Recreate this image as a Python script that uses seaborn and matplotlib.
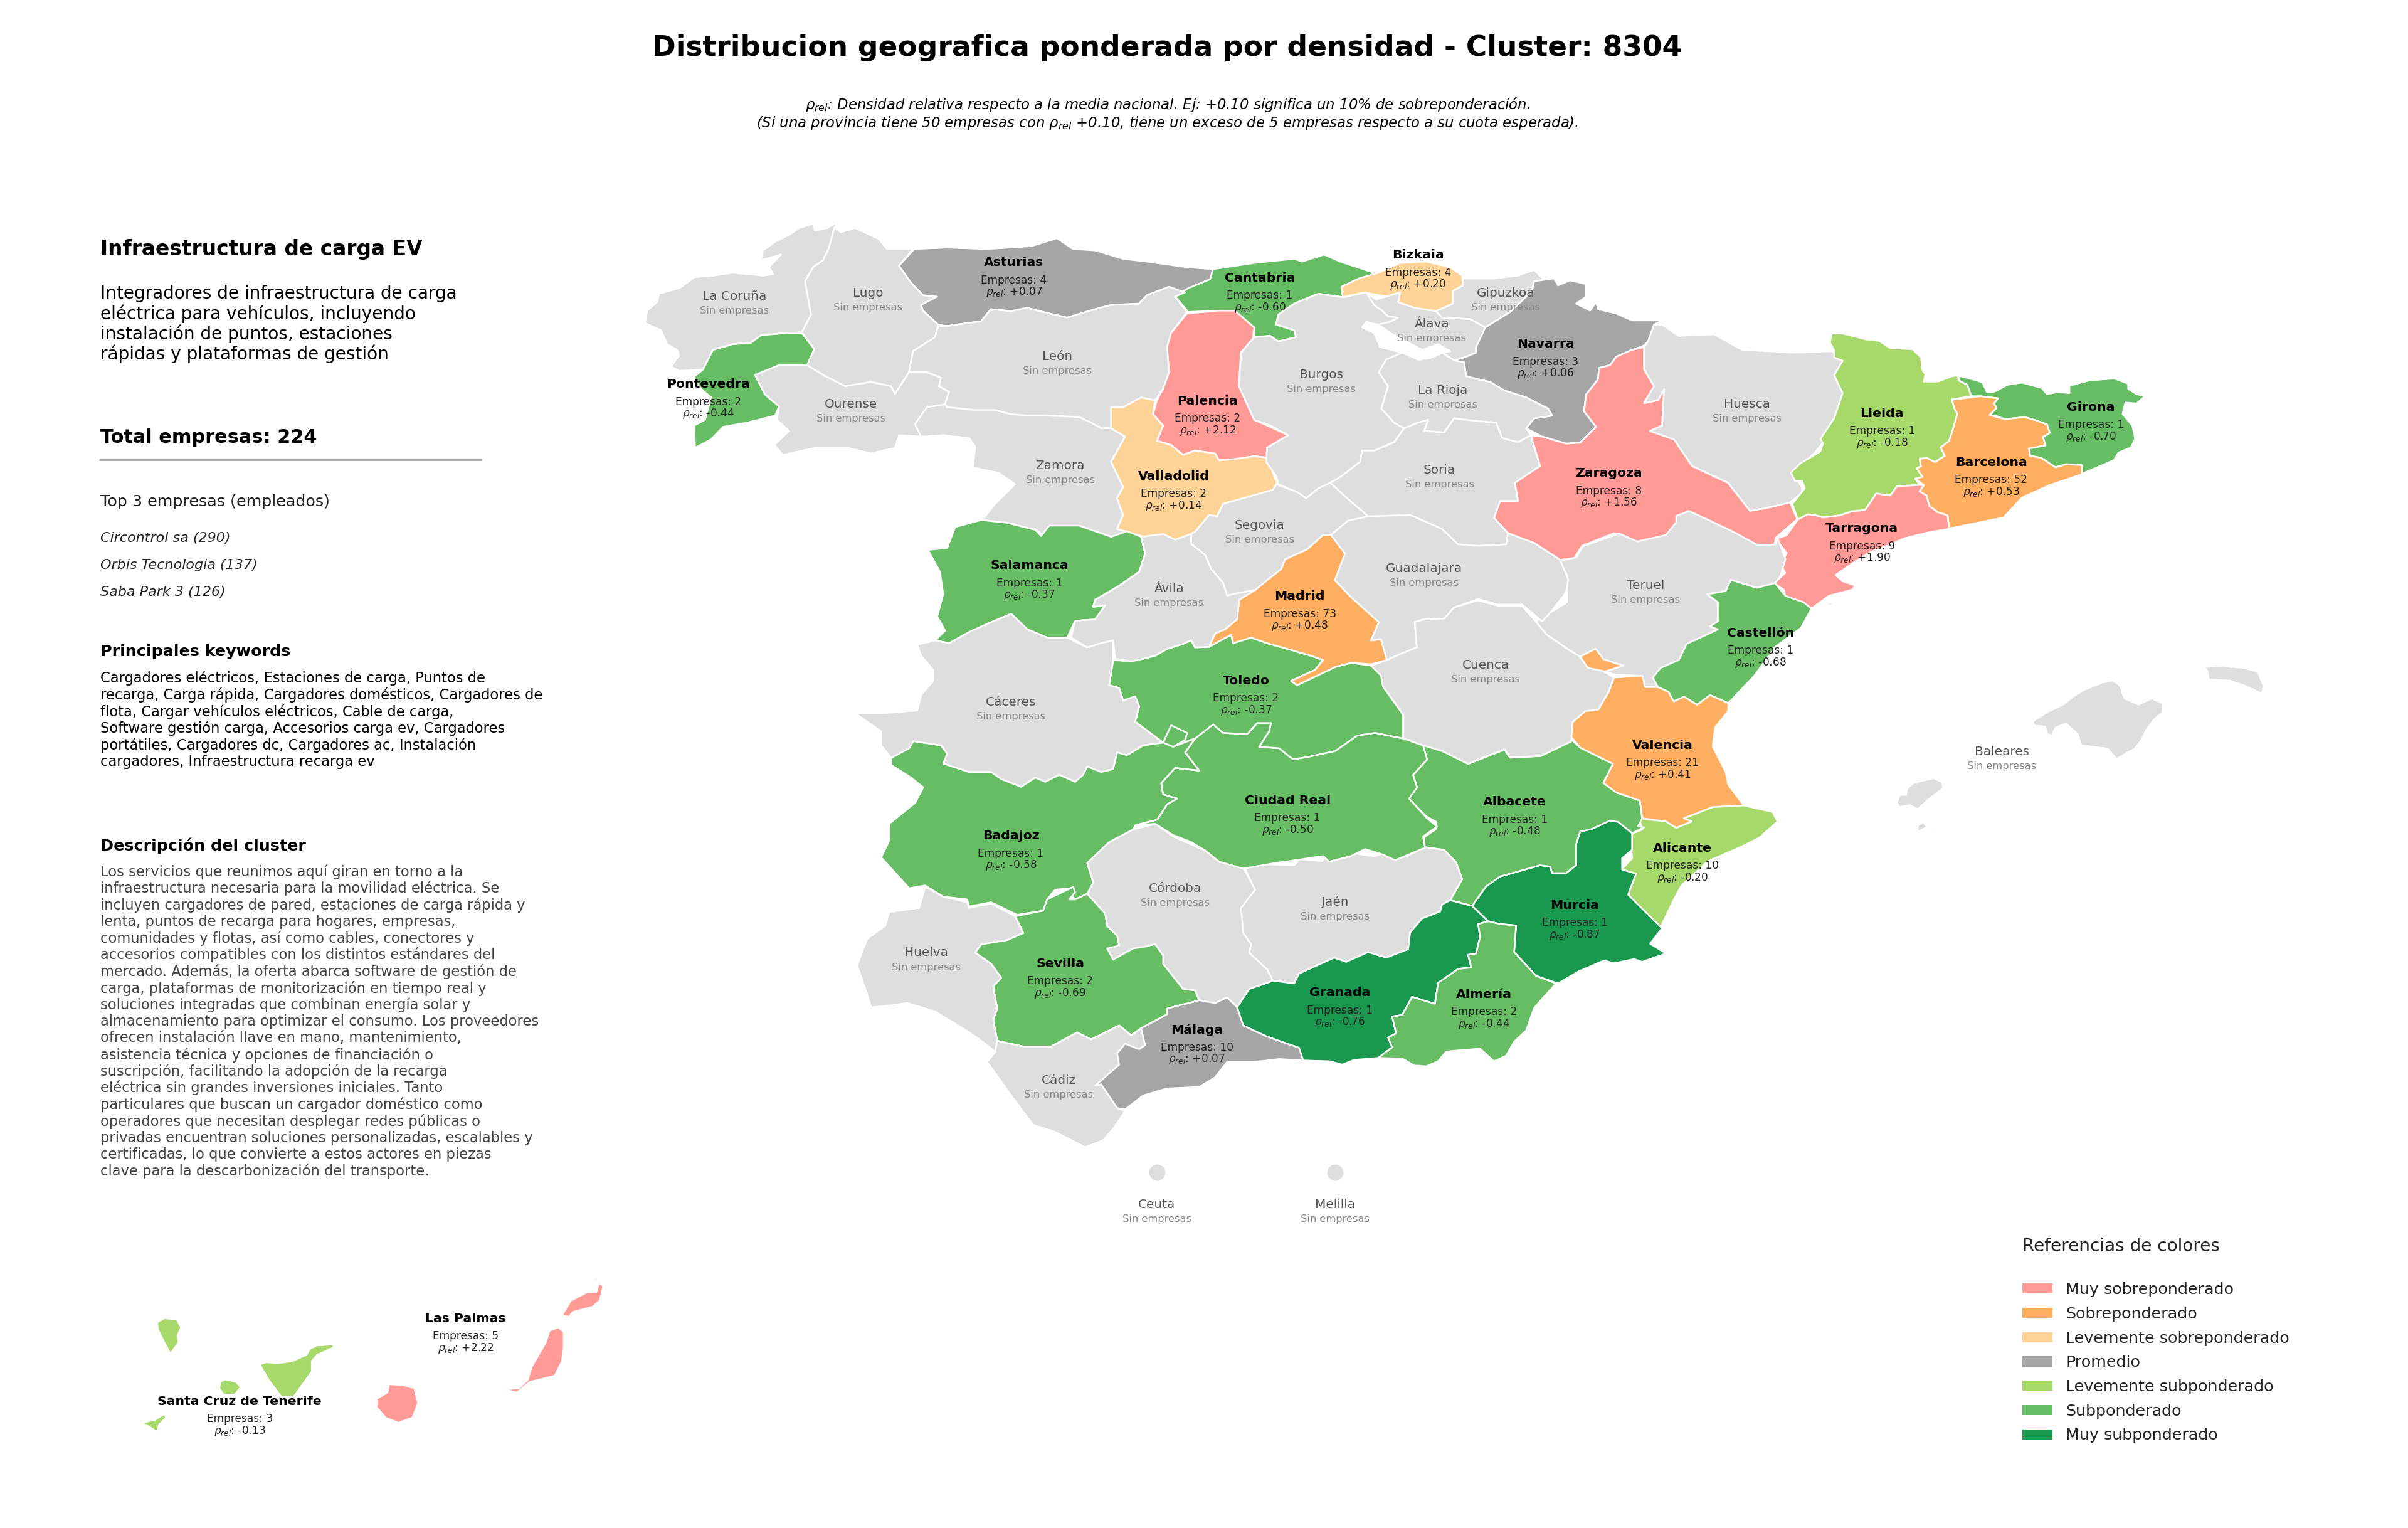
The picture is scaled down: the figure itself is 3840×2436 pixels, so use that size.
import matplotlib
matplotlib.use("Agg")
import matplotlib.pyplot as plt
from matplotlib.patches import Patch
import numpy as np
import pandas as pd
import seaborn as sns

# provinces with companies
provincias = ["Asturias", "Cantabria", "Bizkaia", "Navarra", "Pontevedra", "Palencia", "Girona",
              "Lleida", "Barcelona", "Zaragoza", "Valladolid", "Tarragona", "Salamanca", "Madrid",
              "Castellón", "Toledo", "Valencia", "Ciudad Real", "Albacete", "Badajoz", "Alicante",
              "Murcia", "Sevilla", "Granada", "Almería", "Málaga", "Las Palmas", "Santa Cruz de Tenerife"]
empresas = [4, 1, 4, 3, 2, 2, 1, 1, 52, 8, 2, 9, 1, 73, 1, 2, 21, 1, 1, 1, 10, 1, 2, 1, 2, 10, 5, 3]
rho_rel = [0.07, -0.60, 0.20, 0.06, -0.44, 2.12, -0.70, -0.18, 0.53, 1.56, 0.14, 1.90, -0.37, 0.48,
           -0.68, -0.37, 0.41, -0.50, -0.48, -0.58, -0.20, -0.87, -0.69, -0.76, -0.44, 0.07, 2.22, -0.13]

sin_empresas = ["La Coruña", "Lugo", "León", "Ourense", "Burgos", "Álava", "Gipuzkoa", "La Rioja",
                "Huesca", "Zamora", "Soria", "Segovia", "Guadalajara", "Ávila", "Teruel", "Cuenca",
                "Cáceres", "Córdoba", "Jaén", "Huelva", "Cádiz", "Baleares"]
plazas = ["Ceuta", "Melilla"]

niveles = ["Muy sobreponderado", "Sobreponderado", "Levemente sobreponderado", "Promedio",
           "Levemente subponderado", "Subponderado", "Muy subponderado"]
colores_nivel = ["#ff9a96", "#fdae61", "#fed397", "#a6a6a6", "#a6d96a", "#66bd63", "#1a9850"]
cortes = [-np.inf, -0.75, -0.25, -0.10, 0.10, 0.25, 1.0, np.inf]

top_empresas = ["Circontrol sa (290)", "Orbis Tecnologia (137)", "Saba Park 3 (126)"]
keywords = ["Cargadores eléctricos, Estaciones de carga, Puntos de",
            "recarga, Carga rápida, Cargadores domésticos, Cargadores de",
            "flota, Cargar vehículos eléctricos, Cable de carga,",
            "Software gestión carga, Accesorios carga ev, Cargadores",
            "portátiles, Cargadores dc, Cargadores ac, Instalación",
            "cargadores, Infraestructura recarga ev"]
descripcion = ["Los servicios que reunimos aquí giran en torno a la",
               "infraestructura necesaria para la movilidad eléctrica. Se",
               "incluyen cargadores de pared, estaciones de carga rápida y",
               "lenta, puntos de recarga para hogares, empresas,",
               "comunidades y flotas, así como cables, conectores y",
               "accesorios compatibles con los distintos estándares del",
               "mercado. Además, la oferta abarca software de gestión de",
               "carga, plataformas de monitorización en tiempo real y",
               "soluciones integradas que combinan energía solar y",
               "almacenamiento para optimizar el consumo. Los proveedores",
               "ofrecen instalación llave en mano, mantenimiento,",
               "asistencia técnica y opciones de financiación o",
               "suscripción, facilitando la adopción de la recarga",
               "eléctrica sin grandes inversiones iniciales. Tanto",
               "particulares que buscan un cargador doméstico como",
               "operadores que necesitan desplegar redes públicas o",
               "privadas encuentran soluciones personalizadas, escalables y",
               "certificadas, lo que convierte a estos actores en piezas",
               "clave para la descarbonización del transporte."]
integradores = ["Integradores de infraestructura de carga", "eléctrica para vehículos, incluyendo",
                "instalación de puntos, estaciones", "rápidas y plataformas de gestión"]

# label anchors (px / 2.45)
label_xy = {"Asturias": (660, 171), "Cantabria": (820, 181), "Bizkaia": (923, 166), "Navarra": (1006, 224),
            "Pontevedra": (461, 250), "Palencia": (786, 261), "Girona": (1361, 265), "Lleida": (1225, 269),
            "Barcelona": (1296, 301), "Zaragoza": (1047, 308), "Valladolid": (764, 310), "Tarragona": (1212, 344),
            "Salamanca": (670, 368), "Madrid": (846, 388), "Castellón": (1146, 412), "Toledo": (811, 443),
            "Valencia": (1082, 485), "Ciudad Real": (838, 521), "Albacete": (986, 522), "Badajoz": (658, 544),
            "Alicante": (1095, 552), "Murcia": (1025, 589), "Sevilla": (690, 627), "Granada": (872, 646),
            "Almería": (966, 647), "Málaga": (779, 670), "Las Palmas": (303, 858),
            "Santa Cruz de Tenerife": (156, 912),
            "La Coruña": (478, 193), "Lugo": (565, 191), "León": (688, 232), "Ourense": (554, 263),
            "Burgos": (860, 244), "Álava": (932, 211), "Gipuzkoa": (980, 191), "La Rioja": (939, 254),
            "Huesca": (1137, 263), "Zamora": (690, 303), "Soria": (937, 306), "Segovia": (820, 342),
            "Guadalajara": (927, 370), "Ávila": (761, 383), "Teruel": (1071, 381), "Cuenca": (967, 433),
            "Cáceres": (658, 457), "Córdoba": (765, 578), "Jaén": (869, 587), "Huelva": (603, 620),
            "Cádiz": (689, 703), "Baleares": (1303, 489), "Ceuta": (753, 784), "Melilla": (869, 784)}

# outlines were traced on enlarged crops: (x0, y0, w, h) of the crop, then points in its own scale
NO = (1000, 330, 1000, 700)
NE = (2000, 330, 1000, 700)
CE = (1300, 800, 1000, 700)
ES = (2300, 700, 1300, 800)
SO = (1300, 1300, 1000, 700)
SE = (2000, 1250, 1000, 700)
CA = (2800, 500, 700, 500)
BA = (3000, 1030, 650, 320)
IC = (150, 2000, 900, 400)

outlines = {
    "La Coruña": [(NO, [(525,55),(515,90),(520,115),(505,145),(490,190),(465,215),(445,265),(460,385),(437,447),(400,450),(335,458),(310,485),(265,490),(215,510),(190,580),(130,585),(110,570),(130,530),(125,510),(100,490),(85,440),(45,415),(50,370),(75,340),(80,310),(130,290),(170,250),(215,245),(265,235),(340,245),(365,240),(355,215),(385,170),(335,190),(340,155),(370,125),(410,95),(430,75),(465,60),(470,85),(500,75)])],
    "Lugo": [(NO, [(518,75),(505,145),(490,190),(465,215),(445,265),(460,385),(437,447),(468,507),(450,565),(490,600),(545,640),(610,625),(660,640),(670,668),(705,590),(715,515),(770,465),(778,420),(740,370),(735,350),(775,320),(740,315),(710,270),(680,210),(715,150),(650,150),(630,115),(570,75),(535,90)])],
    "Asturias": [(NO, [(718,150),(800,145),(900,150),(1010,140),(1075,112),(1115,150),(1170,155),(1240,185),(1300,195),(1400,215),(1465,222),(1458,258),(1405,290),(1395,305),(1355,285),(1300,315),(1280,345),(1210,350),(1170,365),(1100,395),(1040,375),(1000,360),(960,372),(910,365),(885,408),(800,425),(778,420),(740,370),(735,350),(775,320),(740,315),(710,270),(680,210)])],
    "Cantabria": [(NE, [(-103,222),(0,200),(100,185),(120,195),(175,170),(215,195),(300,235),(302,255),(250,265),(218,290),(222,322),(160,310),(100,345),(60,385),(55,420),(100,440),(105,465),(60,480),(40,460),(0,465),(0,430),(-50,385),(-80,370),(-120,372),(-165,375),(-197,320),(-165,290),(-110,258)])],
    "Palencia": [(NO, [(1400,380),(1480,370),(1520,370),(1568,430),(1565,470),(1535,520),(1530,640),(1568,760),(1600,780),(1653,815),(1600,860),(1600,895),(1568,890),(1520,900),(1480,905),(1470,880),(1420,870),(1390,885),(1360,850),(1325,835),(1340,780),(1315,740),(1325,690),(1340,650),(1355,590),(1350,500),(1360,450)])],
    "Valladolid": [(NO, [(1210,715),(1240,715),(1285,680),(1320,690),(1315,740),(1340,780),(1325,835),(1360,850),(1390,885),(1420,870),(1470,880),(1480,905),(1520,900),(1568,890),(1600,895),(1625,985),(1615,1010),(1568,1030),(1490,1060),(1475,1105),(1455,1100),(1420,1160),(1370,1195),(1285,1175),(1225,1150),(1240,1100),(1225,1040),(1240,1000),(1210,910),(1245,820),(1210,790)]),
                   (NO, [(1180,795),(1190,790),(1196,822),(1182,822)])],
    "Pontevedra": [(NO, [(335,458),(400,450),(437,450),(468,507),(450,565),(380,565),(320,600),(345,670),(380,712),(370,745),(300,770),(240,785),(210,830),(170,860),(168,780),(195,760),(210,680),(185,650),(165,610),(190,580),(215,510),(265,490),(310,485)])],
    "Ourense": [(NO, [(320,600),(380,565),(450,565),(490,600),(545,640),(610,625),(660,640),(670,668),(705,590),(750,590),(785,610),(780,640),(805,660),(795,705),(750,715),(720,775),(735,820),(680,815),(670,860),(610,880),(550,860),(470,860),(390,885),(368,850),(405,800),(375,760),(380,712),(345,670)])],
    "León": [(NO, [(778,425),(800,425),(885,408),(910,365),(960,372),(1000,360),(1040,375),(1100,395),(1170,365),(1210,350),(1280,345),(1300,315),(1355,285),(1395,305),(1370,320),(1400,375),(1360,450),(1350,500),(1355,590),(1340,650),(1320,690),(1285,680),(1240,715),(1210,715),(1210,790),(1185,790),(1160,770),(1130,750),(1050,745),(1000,745),(960,740),(920,725),(870,725),(800,715),(795,705),(805,660),(780,640),(785,610),(750,590),(705,590),(715,515),(770,465)])],
    "Zamora": [(NO, [(795,705),(800,715),(870,725),(920,725),(960,740),(1000,745),(1050,745),(1130,750),(1160,770),(1185,790),(1210,790),(1245,820),(1210,910),(1240,1000),(1225,1040),(1240,1100),(1225,1150),(1285,1175),(1240,1165),(1220,1180),(1180,1165),(1130,1145),(1040,1170),(1020,1150),(960,1140),(890,1115),(920,1060),(970,990),(930,950),(865,930),(870,855),(855,825),(790,815),(735,820),(720,775),(750,715)])],
    "Salamanca": [(CE, [(415,65),(480,75),(550,100),(565,122),(585,85),(660,85),(740,125),(780,105),(815,125),(825,185),(810,250),(760,300),(700,350),(695,375),(725,370),(700,420),(650,425),(630,485),(580,485),(530,455),(490,400),(440,430),(385,465),(335,505),(300,495),(325,460),(305,410),(320,330),(312,250),(282,172),(330,165),(350,90)])],
    "Burgos": [(NE, [(60,385),(100,345),(160,310),(222,322),(280,305),(305,330),(300,350),(320,370),(335,390),(360,395),(340,410),(310,420),(280,410),(270,430),(300,450),(315,500),(370,520),(330,545),(312,590),(335,640),(318,720),(350,770),(375,790),(350,840),(300,870),(270,870),(265,910),(215,965),(190,985),(160,1005),(130,1040),(110,1020),(60,990),(55,960),(30,910),(32,860),(85,815),(40,780),(0,760),(-38,640),(-33,520),(-3,470),(0,465),(40,460),(60,480),(105,465),(100,440),(55,420)])],
    "Bizkaia": [(NE, [(218,285),(262,255),(310,235),(365,200),(430,195),(490,215),(520,245),(522,280),(497,300),(497,345),(455,372),(400,360),(360,340),(365,305),(330,320),(275,305),(222,322)]),
                (NE, [(330,375),(345,365),(358,385),(340,390)])],
    "Álava": [(NE, [(280,305),(305,330),(330,320),(365,305),(360,340),(400,360),(455,372),(470,395),(540,400),(578,430),(575,460),(555,500),(555,520),(530,535),(500,548),(470,520),(490,515),(460,490),(420,510),(380,480),(340,450),(310,420),(340,410),(360,395),(335,390),(320,370),(300,350)])],
    "Gipuzkoa": [(NE, [(522,255),(600,255),(660,245),(700,225),(725,260),(695,300),(640,375),(578,430),(540,400),(470,395),(455,372),(497,345),(497,300),(522,280)])],
    "Navarra": [(NE, [(700,265),(750,255),(760,280),(790,262),(830,275),(830,320),(805,345),(840,370),(855,340),(860,365),(905,380),(945,405),(1020,405),(1000,420),(985,480),(975,495),(945,510),(905,535),(890,565),(862,575),(860,615),(830,670),(825,730),(855,785),(815,842),(780,845),(720,820),(680,790),(700,755),(745,745),(735,720),(680,680),(625,655),(590,625),(530,605),(525,555),(500,548),(530,535),(555,520),(555,500),(578,430),(640,375),(695,300)])],
    "La Rioja": [(NE, [(330,545),(370,520),(410,545),(440,540),(470,520),(500,548),(525,555),(530,605),(590,625),(625,655),(680,680),(735,720),(745,745),(700,755),(680,790),(692,815),(660,840),(620,825),(605,770),(560,765),(500,755),(475,805),(425,800),(435,760),(410,770),(375,790),(350,770),(318,720),(335,640),(312,590)])],
    "Soria": [(NE, [(375,790),(410,770),(435,760),(425,800),(475,805),(500,755),(560,765),(605,770),(620,825),(660,840),(692,815),(705,880),(715,925),(652,985),(660,1050),(615,1050),(600,1110),(635,1165),(630,1205),(560,1210),(510,1205),(470,1150),(390,1100),(285,1105),(240,1050),(190,985),(215,965),(265,910),(270,870),(300,870),(350,840)])],
    "Zaragoza": [(NE, [(975,500),(975,580),(1000,640),(975,700),(1010,690),(1025,650),(1020,780),(990,800),(1050,830),(1095,925),(1185,985),(1240,1085),(1280,1075),(1340,1055),(1358,1115),(1305,1180),(1300,1210),(1255,1205),(1180,1150),(1120,1110),(1085,1085),(1060,1105),(1060,1155),(1000,1190),(960,1200),(900,1165),(820,1210),(800,1255),(765,1260),(700,1200),(635,1165),(600,1110),(615,1050),(660,1050),(652,985),(715,925),(692,815),(720,820),(780,845),(815,842),(855,785),(825,730),(830,670),(860,615),(862,575),(890,565),(905,535),(945,510)])],
    "Huesca": [(NE, [(1000,420),(1020,420),(1060,460),(1150,455),(1220,510),(1350,520),(1445,515),(1475,550),(1455,620),(1475,660),(1460,720),(1435,820),(1400,880),(1345,950),(1370,1000),(1370,1020),(1340,1055),(1280,1075),(1240,1085),(1185,985),(1095,925),(1050,830),(990,800),(1020,780),(1025,650),(1010,690),(975,700),(1000,640),(975,580),(975,500),(985,480)])],
    "Lleida": [(CA, [(270,95),(310,95),(400,125),(440,130),(480,165),(560,170),(590,210),(595,270),(605,290),(600,325),(650,325),(700,300),(720,295),(725,320),(755,340),(770,395),(700,410),(710,455),(720,480),(700,570),(690,610),(660,640),(675,680),(640,710),(610,690),(585,695),(590,730),(575,740),(595,780),(570,790),(585,820),(505,825),(480,870),(430,860),(390,940),(345,945),(300,965),(240,975),(215,965),(185,960),(150,985),(130,910),(175,835),(165,800),(140,800),(125,760),(160,715),(230,660),(240,620),(230,600),(280,500),(310,380),(280,295),(310,225),(280,210),(280,175),(265,140)])],
    "Girona": [(CA, [(725,297),(790,320),(810,330),(825,375),(850,375),(900,340),(950,330),(1020,355),(1040,385),(1080,375),(1120,380),(1120,345),(1190,320),(1280,310),(1330,335),(1330,360),(1360,385),(1390,395),(1360,430),(1320,425),(1310,480),(1345,535),(1355,600),(1340,640),(1295,665),(1280,700),(1220,735),(1165,765),(1165,725),(1110,720),(1070,735),(1020,690),(980,680),(975,645),(1035,630),(1025,590),(1050,570),(1040,530),(1000,510),(960,495),(890,505),(860,490),(835,485),(860,450),(850,430),(865,405),(800,395),(770,395),(755,340),(725,320)])],
    "Barcelona": [(CA, [(700,412),(800,395),(865,405),(850,430),(860,450),(835,485),(890,505),(960,495),(1000,510),(1040,530),(1050,570),(1025,590),(1035,630),(975,645),(980,680),(1020,690),(1070,735),(1110,720),(1165,725),(1165,768),(1050,820),(950,880),(885,975),(690,1028),(685,965),(650,950),(620,920),(610,870),(585,850),(600,820),(570,790),(595,780),(575,740),(590,730),(585,695),(610,690),(640,710),(675,680),(660,640),(690,610),(700,570),(720,480),(710,455)])],
    "Tarragona": [(CA, [(150,985),(185,960),(215,965),(240,975),(300,965),(345,945),(390,940),(430,860),(480,870),(505,825),(585,820),(600,820),(585,850),(610,870),(620,920),(650,950),(685,965),(690,1030),(620,1045),(530,1075),(470,1110),(410,1140),(350,1190),(285,1250),(310,1280),(355,1300),(345,1320),(260,1350),(200,1410),(105,1350),(100,1320),(65,1290),(105,1240),(90,1200),(110,1145),(75,1085),(75,1075),(110,1060)]),
                  (CA, [(248,1388),(280,1381),(272,1393),(252,1395)])],
    "Teruel": [(ES, [(225,380),(258,370),(270,335),(340,295),(375,320),(430,300),(450,260),(450,240),(475,225),(515,255),(560,290),(605,330),(640,330),(645,310),(660,375),(650,430),(640,450),(605,465),(555,440),(545,475),(510,485),(530,510),(530,570),(515,585),(530,595),(470,640),(470,670),(455,690),(420,715),(405,745),(415,775),(390,775),(385,740),(330,735),(310,725),(348,708),(310,688),(295,655),(265,680),(240,655),(200,610),(180,570),(240,510),(240,425)])],
    "Castellón": [(ES, [(545,475),(555,440),(605,465),(640,450),(660,490),(695,510),(710,530),(690,590),(640,650),(600,740),(550,825),(515,800),(490,830),(465,805),(445,820),(435,790),(415,775),(405,745),(420,715),(455,690),(470,640),(530,595),(515,585),(530,570),(530,510),(510,485)])],
    "Valencia": [(ES, [(330,745),(385,740),(390,775),(415,775),(435,790),(445,820),(465,805),(490,830),(515,800),(550,825),(550,850),(525,900),(520,960),(545,1040),(550,1080),(580,1145),(520,1150),(465,1185),(480,1195),(450,1215),(430,1195),(385,1185),(380,1130),(335,1105),(310,1075),(328,1015),(265,965),(248,930),(250,885),(275,850),(300,845),(320,790)]),
                 (ES, [(265,680),(295,655),(310,688),(348,708),(310,728),(280,715)])],
    "Alicante": [(ES, [(465,1185),(520,1150),(580,1145),(635,1165),(645,1195),(610,1245),(580,1270),(510,1320),(460,1395),(445,1440),(420,1525),(360,1440),(360,1395),(345,1345),(365,1310),(362,1235),(385,1220),(378,1185),(430,1195),(450,1215),(480,1195)])],
    "Murcia": [(SE, [(545,435),(580,365),(615,330),(715,290),(740,295),(745,318),(780,318),(805,290),(805,215),(815,170),(845,160),(890,130),(910,135),(945,175),(945,235),(920,265),(920,305),(955,320),(935,395),(1020,515),(990,570),(1030,605),(970,635),(950,625),(900,640),(875,630),(810,670),(760,712),(705,685),(650,600),(655,505),(615,500),(585,490)])],
    "Albacete": [(SE, [(422,-139),(470,-119),(535,-72),(626,-123),(640,-94),(717,-100),(793,-160),(815,-130),(897,-72),(873,-4),(906,31),(964,59),(970,123),(960,150),(975,155),(945,175),(910,135),(890,130),(845,160),(815,170),(805,215),(805,290),(780,318),(745,318),(740,295),(715,290),(615,330),(580,365),(545,435),(490,415),(520,340),(505,280),(475,235),(425,225),(425,190),(455,160),(455,135),(430,115),(385,50),(407,11),(397,-33),(432,-87)])],
    "Jaén": [(SE, [(-28,287),(0,285),(100,290),(115,268),(170,275),(180,258),(225,265),(240,245),(300,258),(330,245),(350,270),(385,255),(425,225),(475,235),(505,280),(520,340),(490,415),(470,430),(465,455),(420,480),(390,530),(385,590),(330,620),(285,600),(230,635),(200,620),(112,677),(100,712),(47,702),(32,662),(-13,602),(-8,572),(-28,532),(-33,442),(2,377)])],
    "Granada": [(SE, [(490,415),(545,435),(585,490),(560,500),(565,545),(555,605),(535,610),(543,655),(510,660),(460,710),(452,785),(395,760),(370,825),(345,830),(355,890),(335,905),(345,940),(310,978),(250,985),(220,1002),(190,990),(122,987),(112,942),(32,902),(-28,862),(-43,797),(-13,732),(47,702),(100,712),(112,677),(200,620),(230,635),(285,600),(330,620),(385,590),(390,530),(420,480),(465,455),(470,430)])],
    "Almería": [(SE, [(585,490),(615,500),(655,505),(650,600),(705,685),(755,712),(715,775),(700,800),(680,880),(650,920),(630,970),(600,990),(565,945),(520,950),(480,955),(460,990),(430,1008),(400,1005),(370,980),(310,978),(345,940),(335,905),(355,890),(345,830),(370,825),(395,760),(452,785),(460,710),(510,660),(543,655),(535,610),(555,605),(565,545),(560,500)])],
    "Córdoba": [(SO, [(850,30),(895,75),(975,125),(1010,165),(1070,185),(1100,265),(1065,330),(1070,420),(1090,460),(1085,490),(1130,550),(1145,590),(1085,620),(1055,685),(1030,650),(1000,670),(960,660),(950,625),(920,620),(870,530),(870,500),(850,460),(820,470),(795,475),(745,515),(730,475),(760,465),(755,430),(730,395),(725,350),(680,280),(695,240),(680,165),(735,95),(795,50)])],
    "Ciudad Real": [(CE, [(925,895),(950,845),(995,795),(1020,825),(1080,830),(1105,790),(1140,790),(1135,820),(1110,875),(1160,880),(1195,920),(1235,910),(1300,890),(1355,835),(1400,825),(1470,845),(1520,870),(1530,920),(1495,975),(1505,1020),(1485,1060),(1530,1130),(1555,1160),(1520,1195),(1525,1235),(1450,1280),(1420,1260),(1375,1240),(1340,1265),(1285,1285),(1270,1265),(1200,1280),(1150,1290),(1070,1310),(1010,1285),(975,1245),(940,1215),(895,1190),(850,1150),(800,1155),(855,1135),(880,1080),(905,1060),(870,1045),(865,1005),(900,950),(960,960)])],
    "Toledo": [(CE, [(745,565),(790,570),(850,550),(880,525),(915,510),(940,495),(950,520),(985,518),(1020,490),(1040,475),(1045,505),(1090,485),(1130,505),(1180,525),(1240,550),(1270,565),(1250,600),(1190,640),(1205,655),(1300,590),(1340,575),(1390,585),(1415,620),(1420,660),(1470,760),(1470,845),(1400,825),(1355,835),(1300,890),(1235,910),(1195,920),(1160,880),(1110,875),(1135,820),(1140,790),(1105,790),(1080,830),(1020,825),(995,795),(950,845),(895,875),(870,860),(800,785),(810,730),(800,695),(770,710),(760,665),(735,655)]),
               (CE, [(870,860),(890,798),(930,825),(925,850),(895,875)])],
    "Madrid": [(CE, [(1270,118),(1290,118),(1325,155),(1325,185),(1300,280),(1340,340),(1390,395),(1410,430),(1390,495),(1415,490),(1430,565),(1390,580),(1340,575),(1300,590),(1205,655),(1190,640),(1250,600),(1270,565),(1240,550),(1180,525),(1130,505),(1090,485),(1045,505),(1040,475),(1020,490),(985,518),(1000,470),(1025,455),(1055,420),(1060,350),(1100,315),(1130,280),(1165,240),(1175,205),(1230,170)])],
    "Segovia": [(CE, [(1020,7),(1145,-43),(1153,-63),(1208,-33),(1228,-13),(1258,-48),(1288,-68),(1338,-3),(1383,52),(1330,70),(1325,90),(1290,118),(1270,118),(1230,170),(1175,205),(1165,240),(1130,280),(1100,315),(1030,335),(1020,290),(990,240),(975,190),(940,150),(940,115),(950,107),(985,47),(1005,52)])],
    "Ávila": [(CE, [(815,125),(870,115),(900,135),(940,115),(940,150),(975,190),(990,240),(1020,290),(1030,335),(1060,325),(1100,315),(1060,350),(1055,420),(1025,455),(1000,470),(985,518),(950,520),(940,495),(915,510),(880,525),(850,550),(790,570),(750,560),(745,495),(715,505),(680,520),(640,485),(650,425),(700,420),(725,370),(695,375),(700,350),(760,300),(810,250),(825,185)])],
    "Guadalajara": [(NE, [(192,1171),(235,1120),(285,1105),(390,1100),(470,1150),(510,1205),(560,1210),(630,1205),(635,1165),(700,1200),(765,1260),(785,1330),(780,1375),(740,1450),(720,1480),(670,1420),(610,1420),(560,1400),(500,1430),(475,1470),(422,1473),(402,1483),(407,1573),(372,1593),(332,1618),(317,1543),(292,1548),(312,1483),(242,1393),(202,1333),(227,1238)])],
    "Cuenca": [(ES, [(-106,690),(-76,668),(-49,651),(-53,572),(-37,564),(4,561),(23,526),(69,504),(107,521),(153,521),(180,570),(200,610),(240,655),(265,680),(280,715),(310,725),(330,745),(320,790),(300,845),(275,850),(250,885),(248,945),(190,990),(130,995),(120,970),(70,1000),(50,1015),(0,975),(-37,957),(-75,935),(-75,861),(-114,773),(-118,738),(-137,708)])],
    "Cáceres": [(CE, [(255,510),(300,495),(335,505),(385,465),(440,430),(490,400),(530,455),(580,485),(630,485),(680,520),(715,505),(745,495),(745,565),(735,655),(760,665),(770,710),(800,695),(810,730),(800,785),(870,860),(820,870),(780,905),(755,895),(745,955),(715,965),(680,945),(670,975),(650,1000),(610,975),(575,1000),(550,985),(515,1018),(465,990),(440,965),(385,965),(320,935),(330,900),(315,870),(245,855),(235,880),(190,915),(165,870),(165,820),(100,755),(170,755),(255,745),(265,690),(295,640),(295,600),(265,550)])],
    "Badajoz": [(CE, [(245,855),(315,870),(330,900),(320,935),(385,965),(440,965),(465,990),(515,1018),(550,985),(575,1000),(610,975),(650,1000),(670,975),(680,945),(715,965),(745,955),(755,895),(780,905),(820,870),(870,860),(895,875),(950,845),(925,895),(960,960),(900,950),(865,1005),(870,1045),(905,1060),(880,1080),(855,1135),(800,1155),(795,1170),(735,1215),(680,1290),(695,1360),(680,1400),(650,1420),(635,1400),(645,1380),(600,1385),(580,1420),(570,1460),(505,1475),(440,1430),(385,1445),(380,1420),(320,1410),(275,1370),(235,1380),(165,1270),(185,1210),(185,1150),(250,1075),(270,1020),(240,985),(190,940),(190,915),(235,880)])],
    "Sevilla": [(SO, [(500,360),(570,340),(580,300),(645,255),(650,275),(635,300),(650,300),(680,280),(725,350),(730,395),(755,430),(760,465),(730,475),(745,515),(795,475),(820,470),(850,460),(870,500),(870,530),(920,620),(950,625),(960,660),(935,670),(905,680),(880,690),(880,710),(815,760),(790,785),(760,750),(725,775),(690,800),(655,775),(590,825),(520,825),(455,805),(445,730),(455,690),(445,610),(465,580),(440,530),(400,490),(415,460),(480,445),(520,420),(505,375)])],
    "Huelva": [(SO, [(275,255),(320,290),(380,310),(385,330),(440,315),(500,360),(505,375),(520,420),(480,445),(415,460),(400,490),(440,530),(465,580),(445,610),(455,690),(445,730),(455,805),(450,845),(430,820),(380,770),(300,700),(230,670),(180,680),(140,685),(130,640),(105,535),(130,440),(175,395),(185,345),(260,330)])],
    "Cádiz": [(SO, [(455,805),(520,825),(590,825),(655,775),(690,800),(725,775),(760,750),(790,785),(815,760),(825,820),(810,835),(775,815),(755,850),(760,890),(715,950),(700,965),(715,960),(755,1045),(775,1055),(750,1110),(720,1160),(675,1185),(600,1130),(545,1105),(490,1000),(470,960),(430,880),(450,845)])],
    "Málaga": [(SO, [(880,710),(880,690),(905,680),(935,670),(960,660),(1000,670),(1030,650),(1055,685),(1070,750),(1130,790),(1210,830),(1220,875),(1160,870),(1100,880),(1030,880),(1000,935),(960,970),(880,975),(820,1000),(775,1050),(755,1045),(715,960),(700,965),(760,890),(755,850),(775,815),(810,835),(825,820),(815,760)])],
    "Baleares": [(BA, [(582,360),(640,315),(700,280),(740,240),(780,210),(850,175),(890,165),(915,185),(930,215),(960,195),(925,215),(935,250),(990,280),(1040,250),(1085,275),(1080,320),(1050,350),(1020,400),(1000,450),(975,490),(905,540),(870,490),(770,475),(755,420),(710,370),(670,390),(655,430),(640,420),(630,385),(590,380)]),
                 (BA, [(1245,100),(1300,95),(1400,105),(1450,125),(1470,190),(1465,228),(1400,190),(1340,165),(1260,160),(1255,120)]),
                 (BA, [(100,680),(125,655),(200,632),(235,650),(238,680),(180,735),(140,780),(110,760),(70,770),(60,750),(70,712),(95,712)]),
                 (BA, [(140,860),(160,840),(180,870),(222,880),(200,885),(170,870),(140,888)])],
    "Santa Cruz de Tenerife": [(IC, [(175,325),(195,305),(230,310),(242,350),(232,385),(235,420),(212,475),(195,420),(178,360)]),
                               (IC, [(460,525),(480,515),(510,520),(550,510),(590,480),(600,450),(620,435),(665,430),(665,445),(620,480),(605,510),(605,560),(580,620),(555,680),(520,680),(485,600)]),
                               (IC, [(350,610),(365,597),(395,610),(408,635),(390,670),(360,670),(348,640)]),
                               (IC, [(133,805),(170,790),(195,763),(200,780),(180,815),(175,848),(155,825)])],
    "Las Palmas": [(IC, [(820,620),(860,625),(890,640),(900,710),(885,780),(845,805),(810,780),(785,730),(785,690),(815,660)]),
                   (IC, [(1265,365),(1290,348),(1305,370),(1305,440),(1300,510),(1280,580),(1210,610),(1175,660),(1135,645),(1180,640),(1205,600),(1215,540),(1235,480),(1255,420)]),
                   (IC, [(1300,290),(1325,220),(1370,180),(1395,180),(1403,135),(1415,150),(1405,220),(1385,250),(1330,275),(1320,298)]),
                   (IC, [(1390,125),(1395,108),(1400,125)])],
}


def to_pixels(crop, pts):
    x0, y0, w, h = crop
    sx = min(3, 1568 / w)
    sy = min(3, 1568 / h)
    pts = np.array(pts, dtype=float)
    return x0 + pts[:, 0] / sx, y0 + pts[:, 1] / sy


sns.set_theme(style="white", rc={"font.family": "DejaVu Sans"})
palette = dict(zip(niveles, sns.color_palette(colores_nivel)))
GRIS = "#dedede"
K = 2.45

df = pd.DataFrame({"provincia": provincias, "empresas": empresas, "rho": rho_rel})
df["nivel"] = pd.cut(df["rho"], bins=cortes, labels=niveles[::-1])
color_de = {p: palette[n] for p, n in zip(df["provincia"], df["nivel"])}

fig = plt.figure(figsize=(16, 10.15), dpi=240)
ax = fig.add_axes([0, 0, 1, 1])
ax.set_xlim(0, 3840)
ax.set_ylim(2436, 0)
ax.set_axis_off()

# map
for nombre, trozos in outlines.items():
    for crop, pts in trozos:
        xs, ys = to_pixels(crop, pts)
        ax.fill(xs, ys, facecolor=color_de.get(nombre, GRIS), edgecolor="white", linewidth=0.8, joinstyle="round")

plazas_df = pd.DataFrame({"x": [1845, 2129], "y": [1869, 1869]})
sns.scatterplot(data=plazas_df, x="x", y="y", color=GRIS, s=60, linewidth=0, ax=ax, legend=False)
ax.set_xlim(0, 3840)
ax.set_ylim(2436, 0)
ax.set_axis_off()

# labels on the map
for _, fila in df.iterrows():
    x, y = label_xy[fila["provincia"]]
    x, y = x * K, y * K
    ax.text(x, y, fila["provincia"], ha="center", va="center", fontsize=6.1, fontweight="bold", color="black")
    ax.text(x, y + 28, f"Empresas: {fila['empresas']}", ha="center", va="center", fontsize=5.1, color="#222222")
    ax.text(x, y + 47, f"$\\rho_{{rel}}$: {fila['rho']:+.2f}", ha="center", va="center", fontsize=5.1, color="#222222")

for nombre in sin_empresas + plazas:
    x, y = label_xy[nombre]
    x, y = x * K, y * K
    ax.text(x, y, nombre, ha="center", va="center", fontsize=6, color="#555555")
    ax.text(x, y + 23, "Sin empresas", ha="center", va="center", fontsize=4.9, color="#888888")

# title block
ax.text(1861, 76, "Distribucion geografica ponderada por densidad - Cluster: 8304", ha="center", va="center",
        fontsize=13.65, fontweight="bold", color="black")
ax.text(1862, 167, "$\\rho_{rel}$: Densidad relativa respecto a la media nacional. Ej: +0.10 significa un 10% de sobreponderación.",
        ha="center", va="center", fontsize=6.83, style="italic", color="black")
ax.text(1862, 197, "(Si una provincia tiene 50 empresas con $\\rho_{rel}$ +0.10, tiene un exceso de 5 empresas respecto a su cuota esperada).",
        ha="center", va="center", fontsize=6.83, style="italic", color="black")

# left panel
XL = 160
ax.text(XL, 398, "Infraestructura de carga EV", va="center", fontsize=9.85, fontweight="bold", color="black")
for i, linea in enumerate(integradores):
    ax.text(XL, 468 + i * 32, linea, va="center", fontsize=8.4, color="black")
ax.text(XL, 697, "Total empresas: 224", va="center", fontsize=9.1, fontweight="bold", color="black")
ax.plot([159, 767], [733, 733], color="#999999", lw=0.8)
ax.text(XL, 800, "Top 3 empresas (empleados)", va="center", fontsize=7.6, color="#222222")
for i, emp in enumerate(top_empresas):
    ax.text(XL, 858 + i * 43, emp, va="center", fontsize=6.7, style="italic", color="#222222")
ax.text(XL, 1039, "Principales keywords", va="center", fontsize=7.6, fontweight="bold", color="black")
for i, linea in enumerate(keywords):
    ax.text(XL, 1081 + i * 26.8, linea, va="center", fontsize=6.8, color="black")
ax.text(XL, 1348, "Descripción del cluster", va="center", fontsize=7.6, fontweight="bold", color="black")
for i, linea in enumerate(descripcion):
    ax.text(XL, 1390 + i * 26.5, linea, va="center", fontsize=6.8, color="#444444")

# legend
handles = [Patch(facecolor=palette[n], edgecolor="none", label=n) for n in niveles]
leg = ax.legend(handles=handles, title="Referencias de colores", loc="upper left",
                bbox_to_anchor=(3225 / 3840, 1 - 1973 / 2436), frameon=False, fontsize=7.6, title_fontsize=8.4,
                alignment="left", borderpad=0, borderaxespad=0, handlelength=1.9, handleheight=0.6,
                handletextpad=0.84, labelspacing=0.58)
leg._legend_box.sep = 13

fig.savefig("out.png", dpi=240, facecolor="white")
plt.close(fig)
